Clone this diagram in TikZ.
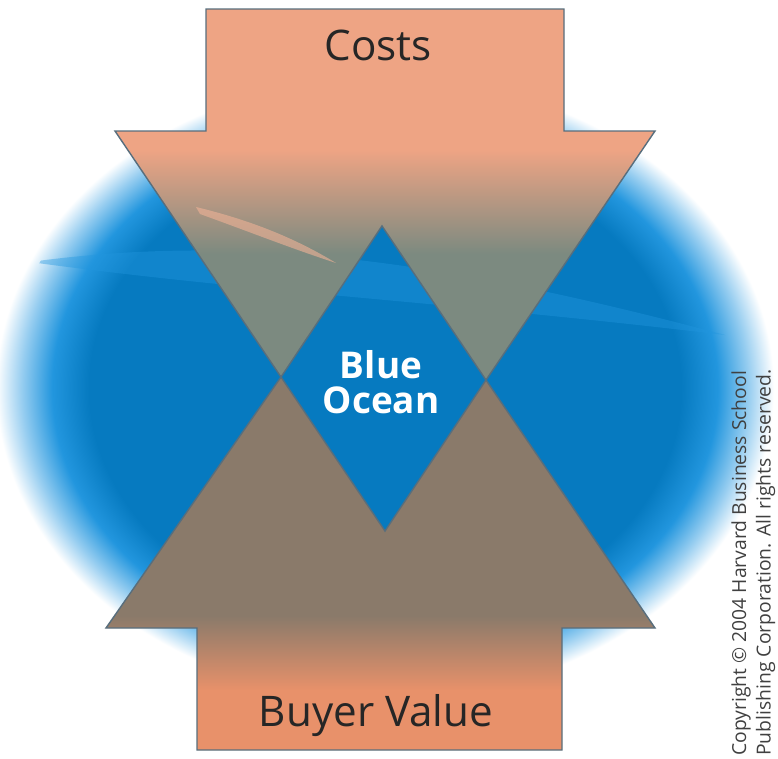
\documentclass[tikz,border=0pt]{standalone}
\usepackage{fontspec}
\setmainfont{Open Sans}
\usetikzlibrary{shadings}

\definecolor{oceandeep}{RGB}{6,122,192}
\definecolor{oceanmid}{RGB}{34,150,222}
\definecolor{oceanlight}{RGB}{150,205,240}
\definecolor{salmon}{RGB}{238,164,132}
\definecolor{costsgrey}{RGB}{124,138,128}
\definecolor{valueorange}{RGB}{232,145,106}
\definecolor{valuebrown}{RGB}{138,122,106}
\definecolor{edgegrey}{RGB}{88,110,125}

\pgfdeclareradialshading{oceanglow}{\pgfpoint{0bp}{0bp}}{color(0bp)=(oceandeep); color(18.5bp)=(oceandeep); color(20.8bp)=(oceanmid); color(22.7bp)=(oceanlight); color(24.3bp)=(white); color(50bp)=(white)}
\pgfdeclareverticalshading{costsfade}{100bp}{color(0bp)=(costsgrey); color(42bp)=(costsgrey); color(56bp)=(salmon); color(100bp)=(salmon)}
\pgfdeclareverticalshading{valuefade}{100bp}{color(0bp)=(valueorange); color(33bp)=(valueorange); color(43bp)=(valuebrown); color(100bp)=(valuebrown)}

\begin{document}
\begin{tikzpicture}[x=0.02cm, y=-0.02cm,
    arrowbody/.style={draw=edgegrey, line width=0.8pt, line join=miter},
    armtext/.style={font=\fontsize{24}{28}\selectfont, text=black!85}]
    \useasboundingbox (0,0) rectangle (778,758);

    % Ocean glow behind the arrows
    \shade[shading=oceanglow] (385,388) ellipse [x radius=400, y radius=320];
    \begin{scope}
        \clip (385,388) ellipse [x radius=380, y radius=300];
        % lighter wave band
        \fill[oceanmid, opacity=0.4] (30,262) .. controls (250,232) and (450,262) .. (725,335)
            .. controls (450,302) and (250,292) .. (30,262) -- cycle;
    \end{scope}

    % Costs arrow (pointing down)
    \shade[shading=costsfade, arrowbody] (206,9) -- (564,9) -- (564,131) -- (655,131)
        -- (486,380) -- (382,226) -- (281,377) -- (115,131) -- (206,131) -- cycle;
    % wake streak
    \fill[salmon!85!white, opacity=0.6] (196,207) .. controls (250,220) and (295,238) .. (336,263)
        .. controls (290,248) and (250,232) .. (200,214) -- cycle;

    % Buyer value arrow (pointing up)
    \shade[shading=valuefade, arrowbody] (197,750) -- (562,750) -- (562,628) -- (655,628)
        -- (486,380) -- (385,531) -- (281,377) -- (106,628) -- (197,628) -- cycle;

    % Labels
    \node[armtext] (costs) at (378,45) {Costs};
    \node[armtext] (value) at (376,716) {Buyer Value};
    \node[font=\bfseries\fontsize{21}{20}\selectfont, text=white, align=center] (ocean) at (381,382) {Blue\\Ocean};

    % Copyright note
    \node[rotate=90, anchor=north west, align=left, inner sep=0pt,
        font=\fontsize{11}{14}\selectfont, text=black!75] (copyright) at (731,756)
        {Copyright © 2004 Harvard Business School\\Publishing Corporation. All rights reserved.};
\end{tikzpicture}
\end{document}
